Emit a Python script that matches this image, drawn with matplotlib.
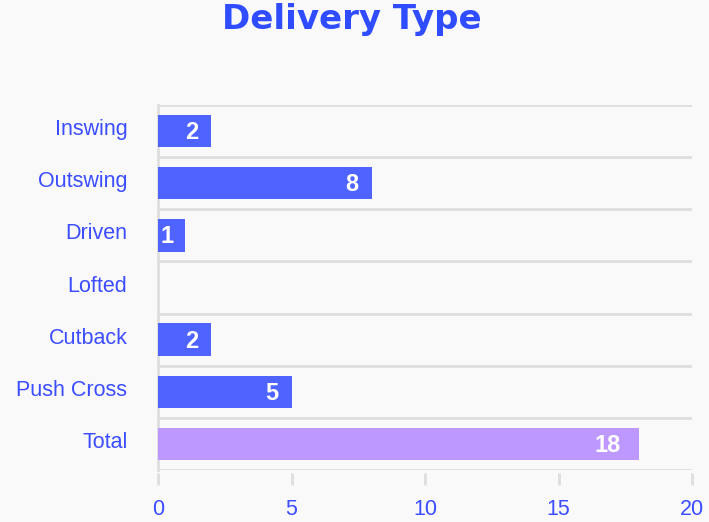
import matplotlib.pyplot as plt
import matplotlib.transforms as mtrans
import numpy as np

categories = ['Inswing', 'Outswing', 'Driven', 'Lofted', 'Cutback', 'Push Cross', 'Total']
values = [2, 8, 1, 0, 2, 5, 18]
bar_colors = ['#4f63ff'] * 6 + ['#bd98ff']
xticks = [0, 5, 10, 15, 20]

blue_text = '#3b4dff'
grid_col = '#dedede'
bg = '#f9f9f9'

plt.rcParams['font.family'] = ['Liberation Sans', 'DejaVu Sans']

fig = plt.figure(figsize=(7.09, 5.22), dpi=100, facecolor=bg)
ax = fig.add_axes([158 / 709, 1 - 470 / 522, (692 - 158) / 709, (470 - 105) / 522])
ax.set_facecolor(bg)

y = np.arange(len(categories))
ax.barh(y, values, height=0.62, color=bar_colors, zorder=3)

# value labels inside the bar end; very short bars get them at the bar start
for yi, v in zip(y, values):
    if v == 0:
        continue
    if v < 2:
        ax.annotate(str(v), xy=(0, yi), xytext=(1.5, -1), textcoords='offset points',
                    ha='left', va='center', color='white', fontsize=17,
                    fontweight='bold', zorder=4)
    else:
        off = 9.5 + 3.5 * (len(str(v)) - 1)
        ax.annotate(str(v), xy=(v, yi), xytext=(-off, -1), textcoords='offset points',
                    ha='right', va='center', color='white', fontsize=17,
                    fontweight='bold', zorder=4)

for b in np.arange(-0.5, len(categories), 1.0):
    ax.axhline(b, color=grid_col, lw=2, zorder=1)

ax.set_xlim(0, 20)
ax.set_ylim(len(categories) - 0.5, -0.5)
ax.set_xticks(xticks)
ax.set_yticks(y)
ax.set_yticklabels(categories)

for s in ['top', 'right']:
    ax.spines[s].set_visible(False)
ax.spines['left'].set_color(grid_col)
ax.spines['left'].set_linewidth(2)
ax.spines['bottom'].set_position(('outward', 2.2))
ax.spines['bottom'].set_visible(False)

ax.tick_params(axis='y', length=0, pad=22, labelcolor=blue_text, labelsize=15.5)
ax.tick_params(axis='x', length=8.6, width=2, color=grid_col, pad=10,
               labelcolor=blue_text, labelsize=15.5)

# category labels sit a little above the bar centres
shift = mtrans.ScaledTranslation(0, 4 / 100, fig.dpi_scale_trans)
for lab in ax.get_yticklabels():
    lab.set_transform(lab.get_transform() + shift)

fig.text(351.5 / 709, 1 - 19 / 522, 'Delivery Type', ha='center', va='center',
         color='#2f4cff', fontsize=24.5, fontweight='heavy', family='DejaVu Sans')

fig.savefig('out.png', dpi=100, facecolor=bg)
